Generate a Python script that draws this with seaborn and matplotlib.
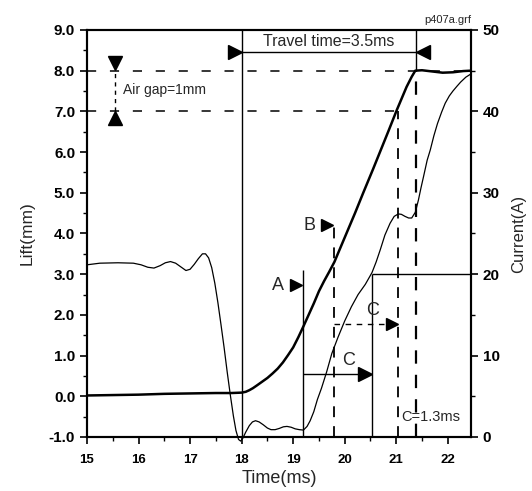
import matplotlib
matplotlib.use("Agg")
import matplotlib.pyplot as plt
from matplotlib.ticker import MultipleLocator, FormatStrFormatter
import seaborn as sns

# ---------------- data ----------------
t_lift = [15.0, 15.5, 16.0, 16.5, 17.0, 17.5, 17.8, 18.0, 18.08, 18.15, 18.22, 18.3,
          18.4, 18.5, 18.6, 18.7, 18.8, 18.9, 19.0, 19.1, 19.2, 19.3, 19.4, 19.5,
          19.6, 19.7, 19.8, 20.0, 20.2, 20.36, 20.55, 20.7, 20.85, 21.01, 21.1,
          21.2, 21.3, 21.37, 21.5, 21.7, 21.9, 22.1, 22.3, 22.45]
lift_mm = [0.02, 0.03, 0.04, 0.06, 0.07, 0.08, 0.08, 0.09, 0.11, 0.15, 0.2, 0.27,
           0.36, 0.45, 0.56, 0.68, 0.83, 1.01, 1.2, 1.45, 1.72, 2.0, 2.28, 2.58,
           2.83, 3.06, 3.3, 3.9, 4.5, 5.0, 5.58, 6.05, 6.52, 7.03, 7.3,
           7.6, 7.85, 8.0, 8.01, 7.98, 7.95, 7.96, 7.99, 8.0]

t_cur = [15.0, 15.25, 15.6, 15.9, 16.05, 16.18, 16.3, 16.42, 16.52, 16.62, 16.72,
         16.82, 16.92, 17.0, 17.08, 17.16, 17.24, 17.3, 17.36, 17.42, 17.48, 17.54,
         17.6, 17.66, 17.72, 17.78, 17.84, 17.89, 17.94, 17.98, 18.02, 18.08, 18.15,
         18.21, 18.27, 18.34, 18.42, 18.5, 18.57, 18.65, 18.73, 18.81, 18.88, 18.96,
         19.04, 19.12, 19.2, 19.27, 19.33, 19.4, 19.47, 19.55, 19.65, 19.75, 19.87,
         20.0, 20.13, 20.26, 20.4, 20.53, 20.61, 20.69, 20.78, 20.88, 20.96, 21.04,
         21.1, 21.17, 21.24, 21.3, 21.37, 21.43, 21.48, 21.53, 21.6, 21.66, 21.73,
         21.8, 21.88, 21.95, 22.03, 22.1, 22.18, 22.25, 22.35, 22.45]
current_a = [21.15, 21.35, 21.4, 21.35, 21.15, 20.85, 20.75, 21.05, 21.4, 21.55, 21.35,
             20.9, 20.45, 20.6, 21.2, 21.9, 22.5, 22.5, 22.0, 20.8, 18.9, 16.5,
             13.8, 11.0, 8.0, 5.2, 2.6, 0.8, -0.3, -0.5, -0.2, 0.6, 1.4,
             1.85, 2.0, 1.85, 1.5, 1.1, 0.9, 0.9, 1.05, 1.25, 1.3, 1.2,
             1.0, 0.9, 0.85, 1.3, 2.0, 3.1, 4.6, 6.0, 8.0, 10.25, 12.25,
             14.25, 16.0, 17.5, 18.75, 20.2, 21.5, 23.0, 24.8, 26.25, 27.1, 27.4,
             27.35, 27.1, 26.9, 26.9, 27.6, 29.1, 30.6, 32.0, 34.0, 35.25, 37.0,
             38.5, 39.9, 41.0, 41.9, 42.5, 43.1, 43.6, 44.2, 44.6]

x_ticks = [15, 16, 17, 18, 19, 20, 21, 22]
lift_ticks = [-1, 0, 1, 2, 3, 4, 5, 6, 7, 8, 9]
cur_ticks = [0, 10, 20, 30, 40, 50]

# event times / levels used by the annotations
T_START, T_A, T_B, T_C, T_7MM, T_END = 18.0, 19.2, 19.8, 20.53, 21.03, 21.38
LIFT_OPEN, LIFT_GAP = 8.0, 7.0
I_HOLD = 20
T_AIR = 15.54

# ---------------- styling ----------------
sns.set_theme(style="ticks")
plt.rcParams['font.family'] = ['Liberation Sans', 'DejaVu Sans']
plt.rcParams['axes.unicode_minus'] = False

fig = plt.figure(figsize=(5.32, 4.91), dpi=100)
ax = fig.add_axes([0.1635, 0.110, 0.7218, 0.829])
ax2 = ax.twinx()

sns.lineplot(x=t_lift, y=lift_mm, ax=ax, color='black', lw=1.8,
             sort=False, estimator=None)
sns.lineplot(x=t_cur, y=current_a, ax=ax2, color='black', lw=0.9,
             sort=False, estimator=None, clip_on=False)

ax.set_xlim(15, 22.45)
ax.set_ylim(-1, 9)
ax2.set_ylim(0, 50)

ax.set_xticks(x_ticks)
ax.set_yticks(lift_ticks)
ax2.set_yticks(cur_ticks)
ax.xaxis.set_minor_locator(MultipleLocator(0.5))
ax.yaxis.set_minor_locator(MultipleLocator(0.5))
ax2.yaxis.set_minor_locator(MultipleLocator(5))
ax.yaxis.set_major_formatter(FormatStrFormatter('%.1f'))

for a in (ax, ax2):
    for s in a.spines.values():
        s.set_visible(True)
        s.set_linewidth(1.5)
        s.set_color('black')
    a.tick_params(which='major', direction='out', length=5, width=1.2, colors='black')
    a.tick_params(which='minor', direction='out', length=3, width=1.0, colors='black')
ax.tick_params(axis='x', labelsize=9.5, pad=7)
ax.tick_params(axis='y', labelsize=11)
ax2.tick_params(axis='y', labelsize=11)
for lab in ax.get_xticklabels() + ax.get_yticklabels() + ax2.get_yticklabels():
    lab.set_fontweight('bold')

ax.set_xlabel('Time(ms)', fontsize=13, labelpad=3)
ax.set_ylabel('Lift(mm)', fontsize=12.5, labelpad=10)
ax2.set_ylabel('Current(A)', fontsize=12, labelpad=8)

k = 'black'
dash_h = (0, (6, 9))
dash_v = (0, (6, 5))

# horizontal dashed reference levels
ax.hlines(LIFT_OPEN, 15, 22.45, colors=k, lw=1.1, linestyles=[dash_h])
ax.hlines(LIFT_GAP, 15, T_7MM, colors=k, lw=1.1, linestyles=[dash_h])

# vertical lines
ax.vlines(T_START, -1, 9, colors=k, lw=1.0)
ax.vlines(T_END, LIFT_OPEN, 9, colors=k, lw=1.0)
ax.vlines(T_END, -1, LIFT_OPEN, colors=k, lw=1.6, linestyles=[dash_v])
ax.vlines(T_7MM, -1, LIFT_GAP, colors=k, lw=1.3, linestyles=[dash_v])
ax.vlines(T_B, -1, 4.33, colors=k, lw=1.3, linestyles=[dash_v])
ax.vlines(T_A, -1, 3.1, colors=k, lw=1.0)
ax.vlines(T_C, -1, 3.0, colors=k, lw=1.0)
ax2.hlines(I_HOLD, T_C, 22.45, colors=k, lw=1.0)

# travel time
y_tr = 8.47
ax.hlines(y_tr, T_START, T_END, colors=k, lw=1.0)
ax.plot([T_START - 0.13], [y_tr], marker='>', ms=10, color=k, ls='none')
ax.plot([T_END + 0.13], [y_tr], marker='<', ms=10, color=k, ls='none')
ax.text((T_START + T_END) / 2, y_tr + 0.06, 'Travel time=3.5ms', ha='center',
        va='bottom', fontsize=11.5)

# air gap
ax.vlines(T_AIR, LIFT_GAP, LIFT_OPEN, colors=k, lw=1.0, linestyles=[(0, (3, 3))])
ax.plot([T_AIR], [LIFT_OPEN + 0.2], marker='v', ms=10, color=k, ls='none')
ax.plot([T_AIR], [LIFT_GAP - 0.16], marker='^', ms=10, color=k, ls='none')
ax.text(T_AIR + 0.16, 7.53, 'Air gap=1mm', ha='left', va='center', fontsize=10)

# A and B markers
ax.text(T_A - 0.49, 2.73, 'A', ha='center', va='center', fontsize=13)
ax.plot([T_A - 0.14], [2.73], marker='>', ms=8, color=k, ls='none')
ax.text(T_B - 0.49, 4.2, 'B', ha='center', va='center', fontsize=13)
ax.plot([T_B - 0.14], [4.2], marker='>', ms=8, color=k, ls='none')

# C arrows
y_c1 = 0.55
ax.hlines(y_c1, T_A, T_C - 0.1, colors=k, lw=1.0)
ax.plot([T_C - 0.14], [y_c1], marker='>', ms=10, color=k, ls='none')
ax.text(20.07, 0.88, 'C', ha='center', va='center', fontsize=13)

y_c2 = 1.78
ax.hlines(y_c2, T_B, T_7MM - 0.1, colors=k, lw=1.0, linestyles=[(0, (4, 4))])
ax.plot([T_7MM - 0.12], [y_c2], marker='>', ms=9, color=k, ls='none')
ax.text(20.55, 2.1, 'C', ha='center', va='center', fontsize=13)

ax.text(T_7MM + 0.06, -0.52, 'C=1.3ms', ha='left', va='center', fontsize=10.5)

ax.text(1.0, 1.012, 'p407a.grf', transform=ax.transAxes, ha='right', va='bottom',
        fontsize=8)

fig.savefig('out.png', dpi=100)
